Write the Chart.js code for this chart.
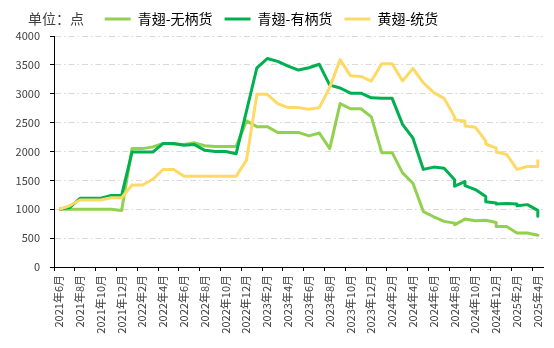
<!DOCTYPE html>
<html>
<head>
<meta charset="utf-8">
<script src="https://cdn.jsdelivr.net/npm/chart.js@4/dist/chart.umd.min.js"></script>
<style>
  html, body { margin: 0; padding: 0; background: #fff; }
  #wrap { width: 554px; height: 348px; }
</style>
</head>
<body>
<div id="wrap"><canvas id="priceChart" width="554" height="348"></canvas></div>
<script>
// Periods (year-month); a repeated month means two readings inside that month
const periods = [
  '2021-06', '2021-07', '2021-08', '2021-09', '2021-10', '2021-11', '2021-12',
  '2022-01', '2022-02', '2022-03', '2022-04', '2022-05', '2022-06', '2022-07',
  '2022-08', '2022-09', '2022-10', '2022-11', '2022-12',
  '2023-01', '2023-02', '2023-03', '2023-04', '2023-05', '2023-06', '2023-07',
  '2023-08', '2023-09', '2023-10', '2023-11', '2023-12',
  '2024-01', '2024-02', '2024-03', '2024-04', '2024-05', '2024-06', '2024-07',
  '2024-08', '2024-08', '2024-09', '2024-09', '2024-10', '2024-11', '2024-11',
  '2024-12', '2024-12', '2025-01', '2025-02', '2025-02', '2025-03', '2025-04', '2025-04'
];

// 青翅-无柄货
const wubingValues = [
  1000, 1000, 1000, 1000, 1000, 1000, 980,
  2050, 2050, 2080, 2140, 2130, 2120, 2150,
  2100, 2085, 2085, 2085, 2530,
  2430, 2430, 2330, 2330, 2330, 2270, 2320,
  2050, 2830, 2740, 2740, 2600,
  1980, 1980, 1630, 1450, 960, 870, 790,
  760, 730, 830, 830, 800, 810, 810,
  770, 700, 700, 590, 590, 590, 550, 570
];

// 青翅-有柄货
const youbingValues = [
  1000, 1030, 1190, 1190, 1190, 1240, 1240,
  1990, 1990, 1990, 2140, 2140, 2110, 2120,
  2020, 2000, 2000, 1960, 2700,
  3450, 3610, 3560, 3480, 3410, 3450, 3510,
  3150, 3100, 3010, 3010, 2930,
  2920, 2920, 2470, 2230, 1690, 1730, 1710,
  1510, 1400, 1480, 1410, 1340, 1220, 1130,
  1110, 1090, 1100, 1090, 1060, 1080, 980, 880
];

// 黄翅-统货
const tonghuoValues = [
  1000, 1060, 1160, 1160, 1160, 1200, 1200,
  1420, 1420, 1520, 1690, 1690, 1570, 1570,
  1570, 1570, 1570, 1570, 1850,
  2990, 2990, 2830, 2760, 2760, 2730, 2760,
  3110, 3590, 3310, 3300, 3220,
  3520, 3520, 3220, 3440, 3190, 3020, 2920,
  2600, 2550, 2530, 2440, 2420, 2180, 2130,
  2060, 1990, 1950, 1690, 1690, 1740, 1740, 1860
];

const seriesNames = ['青翅-无柄货', '青翅-有柄货', '黄翅-统货'];
const seriesColors = ['#92D050', '#00B050', '#FFD966'];

const tickLabels = [
  '2021年6月', '2021年8月', '2021年10月', '2021年12月',
  '2022年2月', '2022年4月', '2022年6月', '2022年8月', '2022年10月', '2022年12月',
  '2023年2月', '2023年4月', '2023年6月', '2023年8月', '2023年10月', '2023年12月',
  '2024年2月', '2024年4月', '2024年6月', '2024年8月', '2024年10月', '2024年12月',
  '2025年2月', '2025年4月'
];
const yTicks = [0, 500, 1000, 1500, 2000, 2500, 3000, 3500, 4000];
const unitText = '单位：点';

const FONT = '"Noto Sans CJK SC", "Noto Sans", sans-serif';

// month offset from 2021-06, plotted in the middle of the month
function monthPos(p) {
  const [y, m] = p.split('-').map(Number);
  return (y - 2021) * 12 + (m - 6) + 0.5;
}

function toPoints(values) {
  return values.map((v, i) => ({ x: monthPos(periods[i]), y: v }));
}

const allValues = [wubingValues, youbingValues, tonghuoValues];

const datasets = allValues.map((vals, i) => ({
  label: seriesNames[i],
  data: toPoints(vals),
  borderColor: seriesColors[i],
  backgroundColor: seriesColors[i],
  borderWidth: 3,
  pointRadius: 0,
  tension: 0,
  borderJoinStyle: 'round',
  order: 2 - i   // later series drawn on top
}));

// draws the unit text to the left of the legend
const unitLabel = {
  id: 'unitLabel',
  afterDraw(chart) {
    const ctx = chart.ctx;
    const box = chart.legend.legendHitBoxes[0];
    ctx.save();
    ctx.font = '14px ' + FONT;
    ctx.fillStyle = '#404040';
    ctx.textBaseline = 'middle';
    ctx.fillText(unitText, 28, box.top + box.height / 2);
    ctx.restore();
  }
};

new Chart(document.getElementById('priceChart'), {
  type: 'line',
  data: { datasets: datasets },
  options: {
    responsive: false,
    devicePixelRatio: 1,
    animation: false,
    layout: { padding: { top: 0, right: 11, bottom: 0, left: 0 } },
    plugins: {
      legend: {
        position: 'top',
        labels: {
          boxWidth: 26,
          boxHeight: 3,
          padding: 12,
          color: '#404040',
          font: { size: 14, family: FONT },
          generateLabels: chart => chart.data.datasets.map((ds, i) => ({
            text: ds.label,
            fillStyle: ds.borderColor,
            strokeStyle: ds.borderColor,
            lineWidth: 0,
            hidden: false,
            datasetIndex: i
          }))
        }
      },
      tooltip: { enabled: false }
    },
    scales: {
      x: {
        type: 'linear',
        min: 0,
        max: 47,
        afterFit: scale => { scale.height = 81; },
        afterBuildTicks: scale => {
          scale.ticks = tickLabels.map((t, i) => ({ value: i * 2 }));
        },
        ticks: {
          autoSkip: false,
          minRotation: 90,
          maxRotation: 90,
          padding: 4,
          labelOffset: 5,
          color: '#404040',
          font: { size: 11, family: FONT },
          callback: value => tickLabels[value / 2]
        },
        grid: {
          drawOnChartArea: false,
          drawTicks: true,
          tickLength: 4,
          tickColor: '#000'
        },
        border: { color: '#000', width: 1 }
      },
      y: {
        min: 0,
        max: 4000,
        afterFit: scale => { scale.width = 54; },
        afterBuildTicks: scale => {
          scale.ticks = yTicks.map(v => ({ value: v }));
        },
        ticks: {
          padding: 10,
          color: '#404040',
          font: { size: 11, family: FONT },
          callback: value => String(value)
        },
        grid: {
          color: '#d9d9d9',
          lineWidth: 1,
          drawTicks: true,
          tickLength: 4,
          tickColor: '#000',
          tickBorderDash: []
        },
        border: { color: '#000', width: 1, dash: [6, 3, 1.5, 3] }
      }
    }
  },
  plugins: [unitLabel]
});
</script>
</body>
</html>
